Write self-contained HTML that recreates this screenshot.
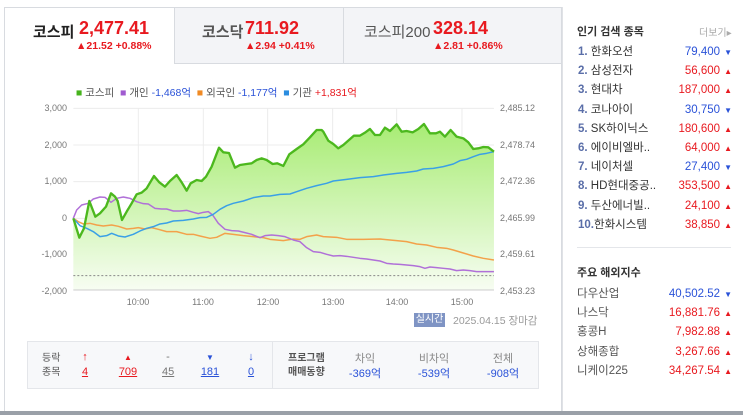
<!DOCTYPE html>
<html><head><meta charset="utf-8">
<style>
*{margin:0;padding:0;box-sizing:border-box}
body{width:743px;height:415px;background:#fff;font-family:"Liberation Sans","Noto Sans CJK KR",sans-serif;position:relative;overflow:hidden;color:#333}
.a{position:absolute;white-space:nowrap}
.red{color:#e8191f}.blue{color:#2a52d8}
.tab{position:absolute;top:7px;height:57px;border:1px solid #d8dbe0;background:#f3f4f7}
.name{font-size:15px;color:#555;font-weight:bold}
.val{font-size:18px;font-weight:bold;color:#e8191f}
.chg{font-size:10.5px;font-weight:bold;color:#e8191f}
.rk{font-size:11.5px}
.rk div{display:flex;justify-content:space-between;height:19.2px;line-height:19.2px}
.rk .n{color:#5a6ea8;font-weight:bold}
.rk small{font-size:8px;margin-left:4px}
</style></head><body>
<div class="a" style="left:4px;top:7px;width:558px;height:406px;border:1px solid #d8dbe0;border-top:none"></div>
<div class="a" style="left:0;top:411px;width:743px;height:4px;background:#9aa0a8"></div>
<div class="a" style="left:562px;top:7px;width:1px;height:404px;background:#e0e2e6"></div>
<div class="tab" style="left:4px;width:171px;background:#fff;border-bottom:none"></div>
<div class="tab" style="left:174px;width:170px"></div>
<div class="tab" style="left:343px;width:219px"></div>
<div class="a name" style="left:33px;top:21px;color:#222">코스피</div>
<div class="a val" style="left:79px;top:18px">2,477.41</div>
<div class="a chg" style="left:76px;top:40px">▲21.52 +0.88%</div>
<div class="a name" style="left:202px;top:21px">코스닥</div>
<div class="a val" style="left:245px;top:18px">711.92</div>
<div class="a chg" style="left:245px;top:40px">▲2.94 +0.41%</div>
<div class="a name" style="left:364px;top:21px;font-weight:normal">코스피200</div>
<div class="a val" style="left:433px;top:18px">328.14</div>
<div class="a chg" style="left:433px;top:40px">▲2.81 +0.86%</div>
<div class="a" style="left:76px;top:85px;font-size:10.5px;color:#555">
<span style="color:#46b31c">■</span> 코스피 &nbsp;<span style="color:#a05bd0">■</span> 개인 <span class="blue">-1,468억</span> &nbsp;<span style="color:#f08a24">■</span> 외국인 <span class="blue">-1,177억</span> &nbsp;<span style="color:#2a8de0">■</span> 기관 <span class="red">+1,831억</span></div>
<svg class="a" style="left:0;top:0" width="743" height="415">
<g font-size="9" fill="#777" font-family="Liberation Sans,sans-serif">
<text x="67" y="111" text-anchor="end">3,000</text>
<text x="67" y="148" text-anchor="end">2,000</text>
<text x="67" y="184" text-anchor="end">1,000</text>
<text x="67" y="221" text-anchor="end">0</text>
<text x="67" y="257" text-anchor="end">-1,000</text>
<text x="67" y="294" text-anchor="end">-2,000</text>
<text x="500" y="111">2,485.12</text>
<text x="500" y="148">2,478.74</text>
<text x="500" y="184">2,472.36</text>
<text x="500" y="221">2,465.99</text>
<text x="500" y="257">2,459.61</text>
<text x="500" y="294">2,453.23</text>
<text x="138" y="305" text-anchor="middle">10:00</text>
<text x="203" y="305" text-anchor="middle">11:00</text>
<text x="268" y="305" text-anchor="middle">12:00</text>
<text x="333" y="305" text-anchor="middle">13:00</text>
<text x="397" y="305" text-anchor="middle">14:00</text>
<text x="462" y="305" text-anchor="middle">15:00</text>
</g>
<defs><linearGradient id="g" x1="0" y1="0" x2="0" y2="1"><stop offset="0" stop-color="#a8ec74"/><stop offset="1" stop-color="#f7fdf2"/></linearGradient></defs>
<g transform="translate(30,95) scale(0.3333)">
<g stroke="#ececec" stroke-width="3">
<path d="M130 40H1392M130 150H1392M130 260H1392M130 370H1392M130 480H1392"/>
<path d="M325 40V585M520 40V585M713 40V585M908 40V585M1100 40V585M1296 40V585"/>
</g>
<path fill="url(#g)" d="M130,370 148,428 162,400 178,318 196,365 210,355 228,335 243,295 255,305 263,318 276,375 290,350 305,325 320,298 335,293 350,280 372,243 388,262 405,275 420,258 440,240 455,262 470,287 482,265 500,255 515,258 528,245 545,215 567,158 580,172 597,174 615,218 630,210 650,207 665,205 680,195 695,190 710,195 728,207 742,205 760,213 778,178 800,162 820,148 840,127 860,105 875,105 880,110 895,137 910,147 925,160 940,150 957,135 972,122 990,122 1005,113 1020,102 1035,120 1050,120 1065,98 1080,108 1100,88 1115,110 1130,108 1148,112 1165,102 1182,87 1200,115 1218,115 1230,110 1245,125 1262,105 1280,125 1300,130 1315,142 1330,162 1345,160 1360,156 1375,157 1392,170 L1392,585 L130,585Z"/>
<path d="M130 542H1392" stroke="#888" stroke-width="3" stroke-dasharray="6,6"/>
<path d="M130 585H1392" stroke="#ccc" stroke-width="3"/>
<g fill="none" stroke-width="4.5" stroke-linejoin="round">
<polyline stroke="#f3a14a" points="130,370 145,380 160,387 180,385 200,390 220,393 245,390 265,394 290,402 310,400 325,398 345,402 365,398 385,403 410,410 440,410 470,418 490,418 510,423 540,430 560,427 585,415 610,418 640,422 670,425 700,428 720,433 760,437 790,432 810,433 830,425 860,420 880,425 920,427 950,433 1000,433 1050,432 1100,437 1130,440 1160,447 1190,450 1220,457 1250,460 1270,465 1300,474 1330,483 1360,490 1392,495"/>
<polyline stroke="#b070d8" points="130,370 140,345 155,330 175,325 190,312 210,306 225,307 243,322 260,310 280,306 300,310 320,320 340,326 355,327 375,340 395,342 410,342 430,348 450,348 470,346 490,352 505,356 520,352 535,350 548,360 565,385 585,403 605,407 625,408 645,413 665,418 690,428 705,422 725,420 745,422 765,425 790,435 810,440 830,458 850,470 870,472 890,478 910,483 930,482 950,484 970,487 990,490 1010,492 1030,495 1050,498 1070,505 1090,507 1110,508 1130,510 1150,512 1170,515 1185,520 1200,516 1220,518 1240,520 1260,522 1280,527 1300,525 1320,527 1340,530 1392,530"/>
<polyline stroke="#3aa0e6" points="130,370 150,392 170,400 190,410 210,425 230,422 245,415 265,423 285,426 310,418 330,408 350,400 370,395 390,387 410,384 430,378 460,376 490,372 510,368 530,367 550,358 570,343 590,332 610,325 640,318 670,308 700,303 720,303 750,298 780,297 800,290 830,280 860,272 890,265 910,258 950,253 990,248 1030,245 1060,240 1100,235 1130,232 1160,228 1180,222 1210,220 1240,215 1270,207 1290,197 1310,193 1330,185 1350,178 1370,175 1392,170"/>
<polyline stroke="#4cb81e" stroke-width="7" points="130,370 148,428 162,400 178,318 196,365 210,355 228,335 243,295 255,305 263,318 276,375 290,350 305,325 320,298 335,293 350,280 372,243 388,262 405,275 420,258 440,240 455,262 470,287 482,265 500,255 515,258 528,245 545,215 567,158 580,172 597,174 615,218 630,210 650,207 665,205 680,195 695,190 710,195 728,207 742,205 760,213 778,178 800,162 820,148 840,127 860,105 875,105 880,110 895,137 910,147 925,160 940,150 957,135 972,122 990,122 1005,113 1020,102 1035,120 1050,120 1065,98 1080,108 1100,88 1115,110 1130,108 1148,112 1165,102 1182,87 1200,115 1218,115 1230,110 1245,125 1262,105 1280,125 1300,130 1315,142 1330,162 1345,160 1360,156 1375,157 1392,170"/>
</g>
</g>
</svg>
<div class="a" style="left:414px;top:313px;width:31px;height:14px;background:#7f94c4;color:#fff;font-size:10px;text-align:center;line-height:14px">실시간</div>
<div class="a" style="left:453px;top:313px;font-size:10.5px;color:#999">2025.04.15 장마감</div>
<div class="a" style="left:27px;top:341px;width:512px;height:48px;background:#f7f8fa;border:1px solid #e4e6ea"></div>
<div class="a" style="left:272px;top:342px;width:1px;height:46px;background:#e4e6ea"></div>
<div class="a" style="left:42px;top:352px;font-size:10px;color:#555;line-height:14px">등락<br>종목</div>
<div class="a" style="left:80px;top:350px;font-size:11px;line-height:15px;text-align:center;width:10px"><span class="red">↑</span><br><u class="red">4</u></div>
<div class="a" style="left:118px;top:350px;font-size:11px;line-height:15px;text-align:center;width:20px"><span class="red" style="font-size:8px">▲</span><br><u class="red">709</u></div>
<div class="a" style="left:162px;top:350px;font-size:11px;line-height:15px;text-align:center;width:12px;color:#777">-<br><u>45</u></div>
<div class="a" style="left:200px;top:350px;font-size:11px;line-height:15px;text-align:center;width:20px"><span class="blue" style="font-size:8px">▼</span><br><u class="blue">181</u></div>
<div class="a" style="left:246px;top:350px;font-size:11px;line-height:15px;text-align:center;width:10px"><span class="blue">↓</span><br><u class="blue">0</u></div>
<div class="a" style="left:288px;top:352px;font-size:10px;font-weight:bold;color:#555;line-height:14px">프로그램<br>매매동향</div>
<div class="a" style="left:345px;top:352px;font-size:11px;line-height:15px;text-align:center;width:40px;color:#888">차익<br><span class="blue">-369억</span></div>
<div class="a" style="left:414px;top:352px;font-size:11px;line-height:15px;text-align:center;width:40px;color:#888">비차익<br><span class="blue">-539억</span></div>
<div class="a" style="left:483px;top:352px;font-size:11px;line-height:15px;text-align:center;width:40px;color:#888">전체<br><span class="blue">-908억</span></div>
<div class="a" style="left:577px;top:23px;font-size:11px;font-weight:bold;color:#333">인기 검색 종목</div>
<div class="a" style="left:699px;top:24px;font-size:10px;color:#aaa">더보기▸</div>
<div class="a rk" style="left:578px;top:43px;width:154px">
<div><span><span class="n">1.</span> 한화오션</span><span class="blue">79,400<small>▼</small></span></div>
<div><span><span class="n">2.</span> 삼성전자</span><span class="red">56,600<small>▲</small></span></div>
<div><span><span class="n">3.</span> 현대차</span><span class="red">187,000<small>▲</small></span></div>
<div><span><span class="n">4.</span> 코나아이</span><span class="blue">30,750<small>▼</small></span></div>
<div><span><span class="n">5.</span> SK하이닉스</span><span class="red">180,600<small>▲</small></span></div>
<div><span><span class="n">6.</span> 에이비엘바..</span><span class="red">64,000<small>▲</small></span></div>
<div><span><span class="n">7.</span> 네이처셀</span><span class="blue">27,400<small>▼</small></span></div>
<div><span><span class="n">8.</span> HD현대중공..</span><span class="red">353,500<small>▲</small></span></div>
<div><span><span class="n">9.</span> 두산에너빌..</span><span class="red">24,100<small>▲</small></span></div>
<div><span><span class="n">10.</span>한화시스템</span><span class="red">38,850<small>▲</small></span></div>
</div>
<div class="a" style="left:577px;top:247px;width:154px;height:1px;background:#e4e6ea"></div>
<div class="a" style="left:577px;top:264px;font-size:11px;font-weight:bold;color:#333">주요 해외지수</div>
<div class="a rk" style="left:577px;top:285px;width:155px;color:#555">
<div><span>다우산업</span><span class="blue">40,502.52<small>▼</small></span></div>
<div><span>나스닥</span><span class="red">16,881.76<small>▲</small></span></div>
<div><span>홍콩H</span><span class="red">7,982.88<small>▲</small></span></div>
<div><span>상해종합</span><span class="red">3,267.66<small>▲</small></span></div>
<div><span>니케이225</span><span class="red">34,267.54<small>▲</small></span></div>
</div>
</body></html>
